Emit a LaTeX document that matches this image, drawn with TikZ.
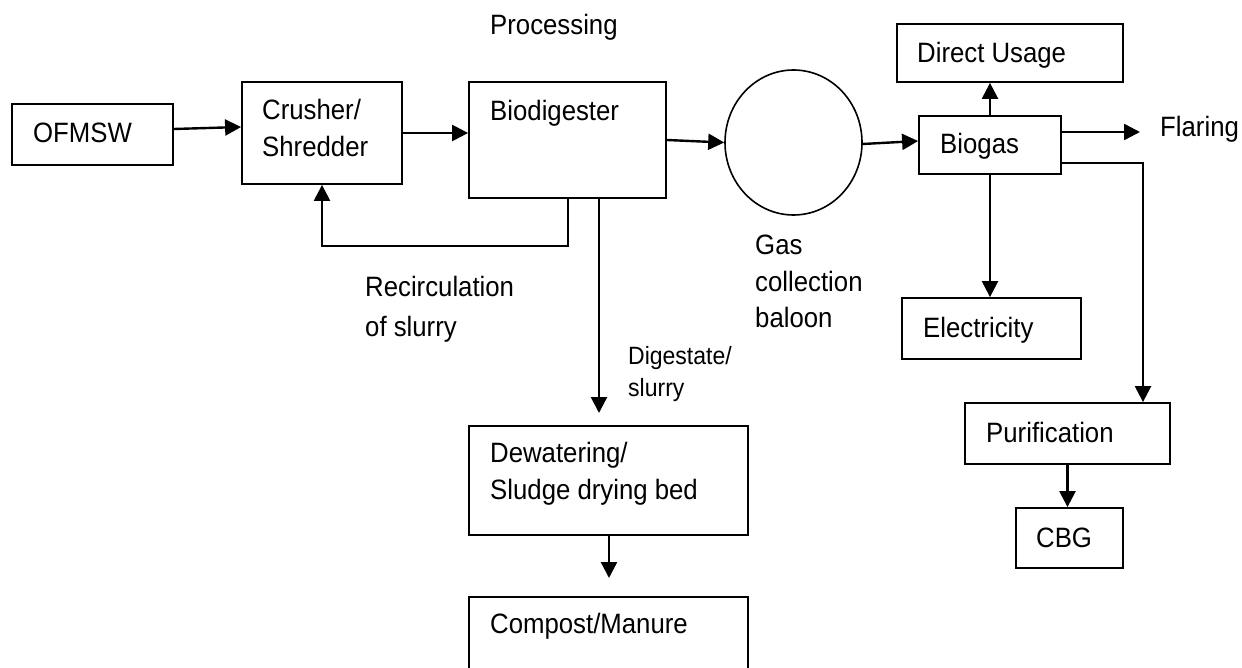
\documentclass[tikz,border=0pt]{standalone}
\usepackage{fontspec}
\setmainfont[FakeStretch=0.92]{Liberation Sans}
\usetikzlibrary{arrows.meta,calc,shapes.geometric}
\tikzset{
  box/.style={draw, line width=1.8pt, inner sep=0pt, rectangle},
  arr/.style={line width=2.4pt, -{Triangle[length=16pt,width=16pt]}},
  txt/.style={inner sep=0pt, anchor=base west, font=\fontsize{28}{37}\selectfont},
  mtxt/.style={inner sep=0pt, anchor=north west, align=left, font=\fontsize{28}{37}\selectfont},
  small/.style={inner sep=0pt, anchor=north west, align=left, font=\fontsize{25}{32}\selectfont},
}
\begin{document}
\begin{tikzpicture}[x=1pt,y=-1pt]
\useasboundingbox (0,0) rectangle (1242,668);
\clip (0,0) rectangle (1242,668);
% boxes
\node[box, minimum width=161pt, minimum height=61pt] (ofmsw) at (92.5,134.5) {};
\node[box, minimum width=160pt, minimum height=102pt] (crusher) at (322,133) {};
\node[box, minimum width=197pt, minimum height=116pt] (biodig) at (567.5,140) {};
\node[draw, line width=1.6pt, ellipse, inner sep=0pt, minimum width=137pt, minimum height=145pt] (balloon) at (793.5,142.5) {};
\node[box, minimum width=142pt, minimum height=58pt] (biogas) at (990,145) {};
\node[box, minimum width=226pt, minimum height=58pt] (direct) at (1010,53) {};
\node[box, minimum width=179pt, minimum height=61pt] (elec) at (991.5,328.5) {};
\node[box, minimum width=205pt, minimum height=61pt] (purif) at (1067.5,433.5) {};
\node[box, minimum width=107pt, minimum height=60pt] (cbg) at (1069.5,538) {};
\node[box, minimum width=279pt, minimum height=109pt] (dewater) at (608.5,480.5) {};
\node[box, minimum width=279pt, minimum height=120pt] (compost) at (608.5,657) {};
% texts
\node[txt] (tofmsw) at (33,143) {OFMSW};
\node[mtxt] (tcrusher) at (262,99) {Crusher/\\Shredder};
\node[txt] (tbiodig) at (490,121) {Biodigester};
\node[txt] (tbiogas) at (940,154) {Biogas};
\node[txt] (tdirect) at (917,63) {Direct Usage};
\node[txt] (tflare) at (1160,137) {Flaring};
\node[txt] (telec) at (923,337) {Electricity};
\node[txt] (tpurif) at (986,442) {Purification};
\node[txt] (tcbg) at (1036,547) {CBG};
\node[mtxt] (tdewater) at (490,442) {Dewatering/\\Sludge drying bed};
\node[txt] (tcompost) at (490,633) {Compost/Manure};
\node[txt] (tproc) at (490,35) {Processing};
\node[mtxt, font=\fontsize{28}{40}\selectfont] (trecirc) at (365,276) {Recirculation\\of slurry};
\node[small] (tdig) at (628,346) {Digestate/\\slurry};
\node[mtxt, font=\fontsize{28}{36.5}\selectfont] (tgas) at (755,235) {Gas\\collection\\baloon};
% connector helper points
\coordinate (flare) at (1140,132);
\coordinate (pj) at (1143,163);
\coordinate (rc) at (568,246);
\coordinate (dg) at (599,413);
\coordinate (dw) at (609,578);
% connectors
\draw[arr] ([yshift=5.5pt]ofmsw.east) -- ([yshift=6pt]crusher.west);
\draw[arr] (crusher.east) -- ([yshift=7pt]biodig.west);
\draw[arr] (biodig.east) -- (balloon.west);
\draw[arr] ([yshift=-1.5pt]balloon.east) -- ([yshift=4pt]biogas.west);
\draw[arr] (biogas.north) -- (biogas.north |- direct.south);
\draw[arr] (biogas.east |- flare) -- (flare);
\draw[arr] (biogas.south) -- (biogas.south |- elec.north);
\draw[arr] (biogas.east |- pj) -- (pj) -- (pj |- purif.north);
\draw[arr] (purif.south) -- (purif.south |- cbg.north);
\draw[arr] (rc |- biodig.south) -- (rc) -| (crusher.south);
\draw[arr] (dg |- biodig.south) -- (dg);
\draw[arr] (dw |- dewater.south) -- (dw);
\end{tikzpicture}
\end{document}
